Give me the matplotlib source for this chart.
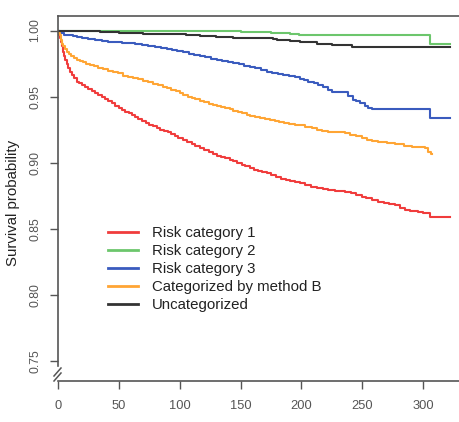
import matplotlib
matplotlib.use("Agg")
import matplotlib.pyplot as plt
from matplotlib.lines import Line2D
from matplotlib.transforms import IdentityTransform

plt.rcParams['font.family'] = ['Liberation Sans', 'DejaVu Sans']

# ---- data ----
red_t = [0, 0.8, 1.5, 2.2, 3, 4, 5, 6, 7, 8.5, 10, 11.2, 13, 15.3, 17.5, 19.5, 22, 25,
         28, 30.5, 33, 36, 38.5, 41.3, 44, 47, 50, 52.5, 55, 58, 60.5, 63.3, 66, 69,
         72, 75, 78, 81, 84, 87, 90, 93, 96, 99, 103, 106, 110, 113, 117, 120, 124,
         127, 130.5, 134, 137, 141, 144, 147.5, 151, 154, 158, 161, 164.5, 168, 171.5,
         175, 179, 183, 187, 191, 195, 199, 203, 208, 213, 218, 222, 228, 236, 241,
         245, 249.5, 253, 258, 263, 268, 272, 277, 281, 285, 289, 296, 300, 305.7, 322]
red_s = [1.000, 0.997, 0.994, 0.991, 0.988, 0.984, 0.981, 0.978, 0.975, 0.972, 0.969,
         0.9665, 0.964, 0.9615, 0.960, 0.959, 0.957, 0.9555, 0.954, 0.953, 0.9515,
         0.950, 0.948, 0.9467, 0.945, 0.943, 0.9415, 0.940, 0.9385, 0.9374, 0.936,
         0.935, 0.9335, 0.932, 0.9305, 0.929, 0.928, 0.9265, 0.925, 0.924, 0.923,
         0.9215, 0.920, 0.9185, 0.917, 0.9155, 0.914, 0.9125, 0.911, 0.910, 0.908,
         0.9068, 0.9055, 0.9045, 0.9035, 0.902, 0.9012, 0.8998, 0.8985, 0.8975,
         0.8965, 0.895, 0.894, 0.893, 0.8922, 0.8905, 0.889, 0.8878, 0.887, 0.886,
         0.8855, 0.8845, 0.8832, 0.882, 0.8812, 0.8802, 0.8795, 0.8788, 0.878, 0.877,
         0.8758, 0.8745, 0.8735, 0.872, 0.8707, 0.8695, 0.869, 0.868, 0.866, 0.8645,
         0.8638, 0.863, 0.8618, 0.8592, 0.8592]

green_t = [0, 60, 110, 150, 175, 191, 198, 304.3, 305.5, 322]
green_s = [1.000, 0.9997, 0.9993, 0.999, 0.9982, 0.9975, 0.9965, 0.9965, 0.990, 0.990]

blue_t = [0, 1.5, 3, 5, 8.5, 12, 16, 19.5, 25, 30.4, 36, 41.3, 47, 52.3, 58, 63.3, 69,
          74.2, 80, 85, 89.3, 94, 98, 103, 108, 112, 116.7, 121, 126, 130.4, 135,
          139.5, 144, 148.5, 153, 157.8, 162, 167, 171.5, 176, 181, 185.2, 190, 194.8,
          199, 202, 205.7, 210, 214, 218, 222, 225, 235.9, 238.6, 242.8, 245, 248.3,
          252, 255.1, 258, 263.3, 304.3, 305.5, 322]
blue_s = [1.000, 0.9985, 0.998, 0.997, 0.9967, 0.996, 0.995, 0.9946, 0.9937, 0.9929,
          0.9922, 0.9916, 0.9912, 0.9909, 0.9904, 0.9899, 0.9892, 0.9886, 0.9876,
          0.9868, 0.9861, 0.9852, 0.9845, 0.9836, 0.9825, 0.9815, 0.9805, 0.9797,
          0.9787, 0.9778, 0.977, 0.9762, 0.9753, 0.9745, 0.9735, 0.9727, 0.9715,
          0.970, 0.969, 0.968, 0.967, 0.9664, 0.9658, 0.965, 0.9635, 0.9625, 0.9613,
          0.960, 0.9589, 0.957, 0.955, 0.9533, 0.9533, 0.9508, 0.9475, 0.9465, 0.945,
          0.943, 0.9417, 0.941, 0.9407, 0.9407, 0.9337, 0.9337]

orange_t = [0, 0.6, 1.6, 2.5, 3.5, 4.5, 6, 7.5, 9, 11, 13, 15.5, 18, 20.5, 23, 26,
            29.5, 33, 37, 41, 45, 49.5, 53.5, 57.8, 62, 66, 70, 74, 78, 82, 86, 89.5,
            93, 97, 100, 103, 107, 110, 113, 117, 120, 124, 127, 130.5, 134, 137, 141,
            144, 148, 151, 155, 158, 162, 166, 170, 174, 178, 182, 186, 190, 195, 199,
            203, 208.5, 213, 217, 222, 236, 240, 245, 249.6, 254, 258, 263, 270, 277,
            284, 290.7, 296, 301.6, 304.4, 306.6, 307.5]
orange_s = [1.000, 0.998, 0.9965, 0.993, 0.990, 0.988, 0.986, 0.984, 0.9825, 0.981,
            0.9795, 0.978, 0.977, 0.976, 0.975, 0.974, 0.973, 0.972, 0.971, 0.9697,
            0.9687, 0.9677, 0.966, 0.9651, 0.964, 0.9634, 0.962, 0.961, 0.9598,
            0.9585, 0.9575, 0.9564, 0.9552, 0.954, 0.953, 0.9515, 0.950, 0.9493,
            0.948, 0.9467, 0.9457, 0.9447, 0.944, 0.943, 0.942, 0.9412, 0.9405,
            0.9395, 0.9383, 0.9374, 0.9365, 0.9357, 0.9347, 0.934, 0.933, 0.9322,
            0.9315, 0.9308, 0.9303, 0.9296, 0.929, 0.9283, 0.9275, 0.9262, 0.925,
            0.924, 0.9232, 0.9223, 0.9212, 0.920, 0.9187, 0.9175, 0.9165, 0.9155,
            0.9148, 0.914, 0.913, 0.9122, 0.9118, 0.911, 0.9085, 0.9065, 0.9065]

black_t = [0, 15, 25, 34.5, 42, 50, 58, 70, 80, 92, 105, 116.7, 130, 144, 160, 177,
           180, 191, 199, 203, 212.7, 225, 241.3, 322]
black_s = [1.000, 0.9997, 0.9995, 0.9992, 0.9987, 0.9983, 0.998, 0.9977, 0.9975,
           0.9971, 0.9965, 0.9956, 0.9952, 0.9946, 0.9942, 0.9936, 0.9926, 0.9922,
           0.9917, 0.9913, 0.990, 0.9893, 0.9872, 0.9872]

labels = ["Risk category 1", "Risk category 2", "Risk category 3",
          "Categorized by method B", "Uncategorized"]
colors = ["#F03C3C", "#6CC66C", "#3A5BBE", "#FFA534", "#333333"]
x_ticks = [0, 50, 100, 150, 200, 250, 300]
y_ticks = [0.75, 0.80, 0.85, 0.90, 0.95, 1.00]
y_ticklabels = ["0.75", "0.80", "0.85", "0.90", "0.95", "1.00"]

# ---- figure ----
W, H = 459, 422
fig = plt.figure(figsize=(W / 100, H / 100), dpi=100)
ax = fig.add_axes([58 / W, (H - 381) / H, 402 / W, 365 / H])

series = [(red_t, red_s), (green_t, green_s), (blue_t, blue_s),
          (orange_t, orange_s), (black_t, black_s)]
handles = []
for (t, s), c, lab in zip(series, colors, labels):
    h, = ax.step(t, s, where="post", color=c, lw=1.5, label=lab)
    handles.append(h)

ax.set_xlim(0, 330.4)
ax.set_ylim(0.7352, 1.0110)

ax.spines['right'].set_visible(False)
for sp in ['left', 'top', 'bottom']:
    ax.spines[sp].set_color('#555555')
    ax.spines[sp].set_linewidth(1.2)
ax.spines['left'].set_bounds(0.7463, 1.0110)

ax.set_xticks(x_ticks)
ax.set_xticklabels([str(v) for v in x_ticks])
ax.set_yticks(y_ticks)
ax.set_yticklabels(y_ticklabels, rotation=90, va='center')
ax.tick_params(axis='both', direction='out', length=6, width=1.0, color='#555555',
               labelcolor='#555555')
ax.tick_params(axis='x', pad=8, labelsize=9.3)
ax.tick_params(axis='y', pad=6, labelsize=8.8)

# axis break slashes (display pixel coords, origin bottom-left)
for (x0, ya, x1, yb) in [(54, 376, 61, 368), (54, 381, 61, 373)]:
    fig.add_artist(Line2D([x0, x1], [H - ya, H - yb], transform=IdentityTransform(),
                          color='#555555', lw=1.1))

fig.text(13.5 / W, 1 - 203 / H, "Survival probability", rotation=90, ha='center',
         va='center', fontsize=10.8, color='#222222')

leg = ax.legend(handles=handles, loc='upper left', frameon=False,
                bbox_to_anchor=(108 / W, 1 - 226 / H), bbox_transform=fig.transFigure,
                fontsize=10.8, handlelength=2.0, handletextpad=0.9,
                labelspacing=0.27, borderpad=0, borderaxespad=0)
for txt in leg.get_texts():
    txt.set_color('#222222')
for lh in leg.get_lines():
    lh.set_linewidth(2.0)

fig.savefig("out.png", dpi=100)
